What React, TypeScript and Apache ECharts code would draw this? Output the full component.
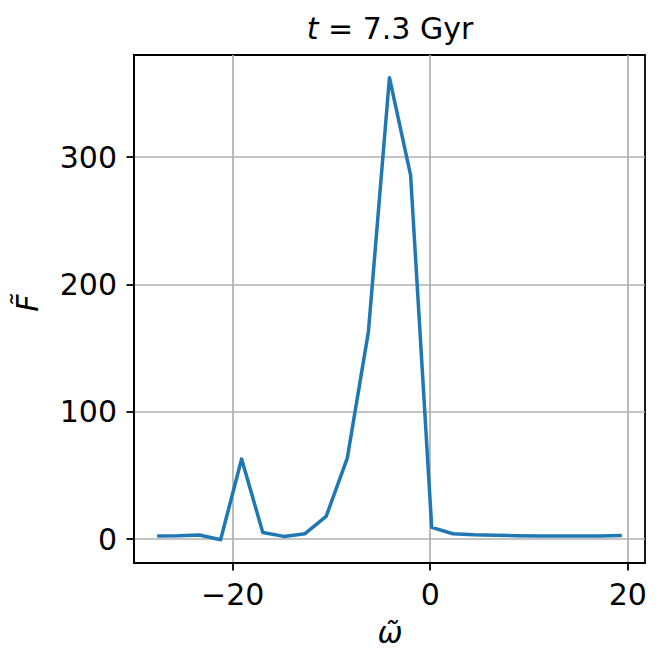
import React, { useEffect, useRef } from "react";
import * as echarts from "echarts";

const omega = [-27.65, -25.51, -23.37, -21.23, -19.1, -16.96, -14.82, -12.68, -10.54, -8.4, -6.26, -4.13, -1.99, 0.15, 2.29, 4.43, 6.57, 8.71, 10.84, 12.98, 15.12, 17.26, 19.4];
const fluxValues = [2.5, 2.7, 3.3, -0.4, 63, 5.3, 2.2, 4.3, 17.9, 63.7, 163, 362.5, 286, 9.3, 4.3, 3.4, 3.0, 2.8, 2.6, 2.5, 2.5, 2.6, 2.9];
const xTicks = [-20, 0, 20];
const yTicks = [0, 100, 200, 300];
const titleText = "t = 7.3 Gyr";

const FONT = "DejaVu Sans";

export default function App() {
  const ref = useRef<HTMLDivElement>(null);
  useEffect(() => {
    if (!ref.current) return;
    const chart = echarts.init(ref.current, null, { renderer: "svg" });
    const data = omega.map((x, i) => [x, fluxValues[i]]);
    const axisCommon = {
      axisLine: { show: true, onZero: false, lineStyle: { color: "#000", width: 1.8 } },
      axisTick: { show: true, length: 7.5, lineStyle: { color: "#000", width: 1.8 } },
      axisLabel: { color: "#000", fontFamily: FONT, fontSize: 30 },
      splitLine: { show: true, lineStyle: { color: "#b0b0b0", width: 1.7 } },
    };
    chart.setOption({
      animation: false,
      backgroundColor: "#fff",
      grid: {
        left: 134,
        right: 20,
        top: 55,
        bottom: 104,
        show: true,
        borderColor: "#000",
        borderWidth: 1.8,
        backgroundColor: "transparent",
      },
      xAxis: {
        type: "value",
        min: -30,
        max: 21.75,
        ...axisCommon,
        axisTick: { ...axisCommon.axisTick, customValues: xTicks },
        axisLabel: {
          ...axisCommon.axisLabel,
          margin: 16,
          customValues: xTicks,
          formatter: (v: number) => (v < 0 ? "\u2212" + Math.abs(v) : String(v)),
        },
        splitLine: { ...axisCommon.splitLine, customValues: xTicks },
      },
      yAxis: {
        type: "value",
        min: -18.7,
        max: 380.3,
        ...axisCommon,
        axisTick: { ...axisCommon.axisTick, customValues: yTicks },
        axisLabel: { ...axisCommon.axisLabel, margin: 17, customValues: yTicks },
        splitLine: { ...axisCommon.splitLine, customValues: yTicks },
      },
      graphic: [
        {
          type: "text",
          x: 390,
          y: 28,
          style: {
            text: "{i|t} = 7.3 Gyr",
            fontFamily: FONT,
            fontSize: 30,
            fill: "#000",
            rich: {
              i: { fontFamily: FONT, fontStyle: "italic", fontSize: 30, fill: "#000" },
            },
            textAlign: "center",
            textVerticalAlign: "middle",
          },
        },
        {
          type: "text",
          x: 390,
          y: 632,
          style: {
            text: "\u03c9\u0303",
            fontFamily: FONT,
            fontStyle: "italic",
            fontSize: 30,
            fill: "#000",
            textAlign: "center",
            textVerticalAlign: "middle",
          },
        },
        {
          type: "text",
          x: 27,
          y: 303,
          rotation: Math.PI / 2,
          style: {
            text: "F\u0303",
            fontFamily: FONT,
            fontStyle: "italic",
            fontSize: 30,
            fill: "#000",
            textAlign: "center",
            textVerticalAlign: "middle",
          },
        },
      ],
      series: [
        {
          type: "line",
          name: titleText,
          data,
          showSymbol: false,
          symbol: "none",
          lineStyle: { color: "#1f77b4", width: 3.5, join: "round", cap: "butt" },
          z: 5,
        },
      ],
    });
    return () => chart.dispose();
  }, []);
  return (
    <div
      ref={ref}
      style={{ position: "fixed", left: 0, top: 0, width: 665, height: 667 }}
    />
  );
}
